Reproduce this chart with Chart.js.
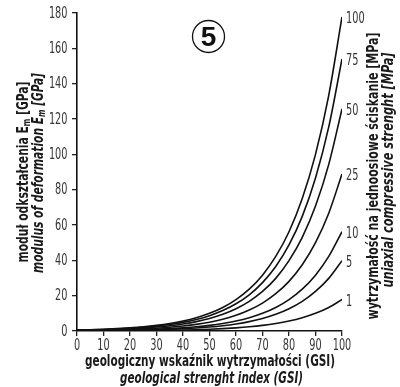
<!DOCTYPE html>
<html>
<head>
<meta charset="utf-8">
<script src="https://cdn.jsdelivr.net/npm/chart.js@4"></script>
<style>
  html, body { margin: 0; padding: 0; background: #fff; }
  #wrap { width: 400px; height: 387px; }
</style>
</head>
<body>
<div id="wrap"><canvas id="chart" width="400" height="387"></canvas></div>
<script>
// GSI values along the x axis
const gsi = [0, 5, 10, 15, 20, 25, 30, 35, 40, 45, 50, 55, 60, 65, 70, 75, 80, 85, 90, 95, 100];

// Em [GPa] (labelled by UCS in MPa)
const ucs100 = [0.56, 0.75, 1.0, 1.33, 1.78, 2.37, 3.16, 4.22, 5.62, 7.5, 10.0, 13.3, 17.8, 23.7, 31.6, 42.2, 56.2, 75.0, 100, 133.4, 177.8];
const ucs75 = [0.49, 0.65, 0.87, 1.16, 1.54, 2.05, 2.74, 3.65, 4.87, 6.49, 8.66, 11.55, 15.4, 20.5, 27.4, 36.5, 48.7, 64.9, 86.6, 115.5, 154];
const ucs50 = [0.40, 0.53, 0.71, 0.94, 1.26, 1.68, 2.24, 2.98, 3.98, 5.30, 7.07, 9.43, 12.6, 16.8, 22.4, 29.8, 39.8, 53.0, 70.7, 94.3, 125.7];
const ucs25 = [0.28, 0.38, 0.5, 0.67, 0.89, 1.19, 1.58, 2.11, 2.81, 3.75, 5.0, 6.67, 8.89, 11.9, 15.8, 21.1, 28.1, 37.5, 50, 66.7, 88.9];
const ucs10 = [0.18, 0.24, 0.32, 0.42, 0.56, 0.75, 1.0, 1.33, 1.78, 2.37, 3.16, 4.22, 5.62, 7.5, 10.0, 13.3, 17.8, 23.7, 31.6, 42.2, 56.2];
const ucs5 = [0.13, 0.17, 0.22, 0.30, 0.40, 0.53, 0.71, 0.94, 1.26, 1.68, 2.24, 2.98, 3.98, 5.30, 7.07, 9.43, 12.6, 16.8, 22.4, 29.8, 39.8];
const ucs1 = [0.06, 0.08, 0.1, 0.13, 0.18, 0.24, 0.32, 0.42, 0.56, 0.75, 1.0, 1.33, 1.78, 2.37, 3.16, 4.22, 5.62, 7.5, 10.0, 13.3, 17.8];

const curveLabels = ['100', '75', '50', '25', '10', '5', '1'];
const curves = [ucs100, ucs75, ucs50, ucs25, ucs10, ucs5, ucs1];

const narrow = "'Liberation Sans Narrow', 'DejaVu Sans Condensed', 'Liberation Sans', sans-serif";
const numFont = '16px ' + narrow;
const digitW = 6.2; // width of one digit in the reference

// draws a run of text pieces centred at (cx, cy), squeezed to the given length
function drawRun(ctx, pieces, cx, cy, len, rot) {
    ctx.save();
    ctx.translate(cx, cy);
    if (rot) ctx.rotate(rot);
    let total = 0;
    pieces.forEach(p => { ctx.font = p.font; p.w = ctx.measureText(p.text).width; total += p.w; });
    const sx = len / total;
    ctx.scale(sx, 1);
    ctx.textBaseline = 'middle';
    ctx.textAlign = 'left';
    ctx.fillStyle = '#1a1a1a';
    let x = -total / 2;
    pieces.forEach(p => {
        ctx.font = p.font;
        ctx.fillText(p.text, x, p.dy || 0);
        x += p.w;
    });
    ctx.restore();
}

// number drawn with the reference's narrow digit width; align: 'left' | 'center' | 'right'
function drawNum(ctx, text, x, y, align) {
    const len = text.length * digitW;
    let cx = x;
    if (align === 'left') cx = x + len / 2;
    if (align === 'right') cx = x - len / 2;
    ctx.save();
    ctx.translate(cx, y);
    ctx.font = numFont;
    const w = ctx.measureText(text).width;
    ctx.scale(len / w, 1);
    ctx.fillStyle = '#363636';
    ctx.textAlign = 'center';
    ctx.textBaseline = 'middle';
    ctx.fillText(text, 0, 0);
    ctx.restore();
}

const decorations = {
    id: 'decorations',
    afterDraw(chart) {
        const ctx = chart.ctx;
        const xs = chart.scales.x, ys = chart.scales.y;

        // tick labels
        ys.ticks.forEach(t => drawNum(ctx, String(t.value), 67.5, ys.getPixelForValue(t.value) + 0.5, 'right'));
        xs.ticks.forEach(t => drawNum(ctx, String(t.value), xs.getPixelForValue(t.value), 346, 'center'));

        // curve labels at the right-hand ends
        curves.forEach((c, i) => {
            const px = xs.getPixelForValue(gsi[gsi.length - 1]);
            const py = ys.getPixelForValue(c[c.length - 1]);
            drawNum(ctx, curveLabels[i], px + 4, py + 2, 'left');
        });

        // circled 5
        ctx.save();
        ctx.beginPath();
        ctx.arc(208.5, 36.5, 16, 0, Math.PI * 2);
        ctx.lineWidth = 1.3;
        ctx.strokeStyle = '#111';
        ctx.stroke();
        ctx.font = 'bold 28px "Liberation Sans", sans-serif';
        ctx.fillStyle = '#111';
        ctx.textAlign = 'center';
        ctx.textBaseline = 'middle';
        ctx.fillText('5', 208.5, 38);
        ctx.restore();

        const b = 'bold 15px ' + narrow;
        const bi = 'italic bold 15px ' + narrow;
        const bs = 'bold 10px ' + narrow;
        const bis = 'italic bold 10px ' + narrow;

        // bottom titles
        drawRun(ctx, [{ text: 'geologiczny wskaźnik wytrzymałości (GSI)', font: b }], 210, 362, 250, 0);
        drawRun(ctx, [{ text: 'geological strenght index (GSI)', font: bi }], 211.5, 379, 183, 0);

        // left titles
        drawRun(ctx, [
            { text: 'moduł odkształcenia E', font: b },
            { text: 'm', font: bs, dy: 3 },
            { text: ' [GPa]', font: b }
        ], 24.5, 172, 181, -Math.PI / 2);
        drawRun(ctx, [
            { text: 'modulus of deformation E', font: bi },
            { text: 'm', font: bis, dy: 3 },
            { text: ' [GPa]', font: bi }
        ], 39, 173, 200, -Math.PI / 2);

        // right titles
        drawRun(ctx, [{ text: 'wytrzymałość na jednoosiowe ściskanie [MPa]', font: b }], 374, 176, 287, -Math.PI / 2);
        drawRun(ctx, [{ text: 'uniaxial compressive strenght [MPa]', font: bi }], 389.5, 170, 235, -Math.PI / 2);
    }
};

const datasets = curves.map((c, i) => ({
    label: curveLabels[i],
    data: gsi.map((g, j) => ({ x: g, y: c[j] })),
    borderColor: '#111',
    borderWidth: 1.6,
    pointRadius: 0,
    fill: false,
    cubicInterpolationMode: 'monotone'
}));

const hidden = 'rgba(0,0,0,0)';

new Chart(document.getElementById('chart'), {
    type: 'line',
    data: { datasets: datasets },
    options: {
        responsive: false,
        animation: false,
        layout: { padding: { top: 13, right: 58, left: 0, bottom: 0 } },
        plugins: { legend: { display: false }, tooltip: { enabled: false } },
        scales: {
            x: {
                type: 'linear',
                min: 0,
                max: 100,
                ticks: { stepSize: 10, autoSkip: false, color: hidden, font: { size: 10 }, maxRotation: 0 },
                grid: { drawOnChartArea: false, drawTicks: true, tickLength: 5, color: '#222', lineWidth: 1.3 },
                border: { color: '#111', width: 1.6 },
                afterFit(scale) { scale.height = 56; }
            },
            y: {
                min: 0,
                max: 180,
                ticks: { stepSize: 20, autoSkip: false, color: hidden, font: { size: 10 } },
                grid: { drawOnChartArea: false, drawTicks: true, tickLength: 5, color: '#222', lineWidth: 1.3 },
                border: { color: '#111', width: 1.6 },
                afterFit(scale) { scale.width = 77; }
            }
        }
    },
    plugins: [decorations]
});
</script>
</body>
</html>
